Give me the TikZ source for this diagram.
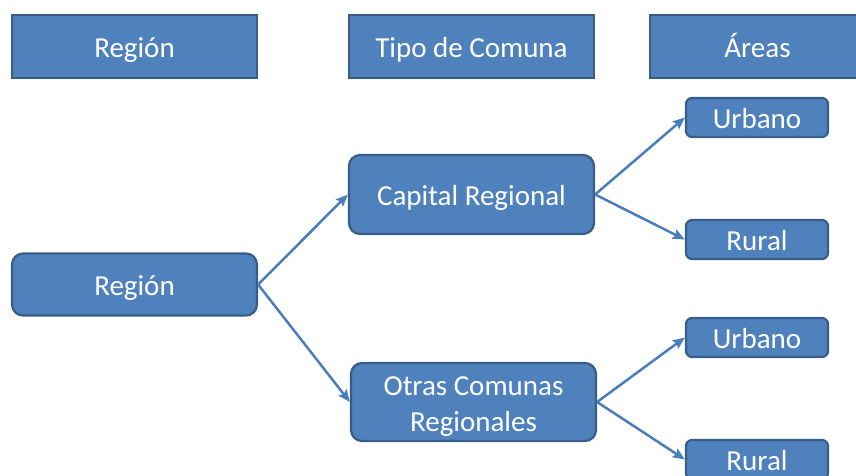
\documentclass[tikz,border=0pt]{standalone}
\usepackage{fontspec}
\setmainfont{Carlito}
\usetikzlibrary{arrows.meta}
\definecolor{boxfill}{HTML}{4F81BD}
\definecolor{boxline}{HTML}{385D8A}
\definecolor{arrowc}{HTML}{4A7EBB}
\tikzset{
  txt/.style={text=white, font=\fontsize{29}{36}\selectfont, inner sep=0pt, align=center},
  base/.style={txt, fill=boxfill, draw=boxline, line width=2.2pt, text height=21.5pt, text depth=0.5pt},
  header/.style={base, rectangle, minimum width=245pt, minimum height=63pt},
  bigbox/.style={base, rounded corners=11pt, minimum width=245pt},
  smallbox/.style={base, rounded corners=6pt, minimum width=142pt, minimum height=39pt},
  conn/.style={draw=arrowc, line width=2.5pt, -{Stealth[length=12pt,width=10pt,inset=2pt]}}
}
\begin{document}
\begin{tikzpicture}[x=1pt,y=-1pt]
\useasboundingbox (0,0) rectangle (856,475);
\clip (0,0) rectangle (856,475);
\node[header] (h1) at (134.5,46.5) {Región};
\node[header] (h2) at (471.5,46.5) {Tipo de Comuna};
\node[header, minimum width=215pt] (h3) at (757.5,46.5) {Áreas};
\node[bigbox, minimum height=62pt] (reg) at (134.5,284.5) {Región};
\node[bigbox, minimum height=79pt] (cap) at (471.5,194.5) {Capital Regional};
\node[bigbox, minimum height=78pt] (otr) at (473.5,402) {};
\node[txt] (otrtext) at ([yshift=-4.5pt]otr.center) {Otras Comunas\\Regionales};
\node[smallbox] (u1) at (757,117.5) {Urbano};
\node[smallbox] (r1) at (757,239.5) {Rural};
\node[smallbox] (u2) at (757,337.5) {Urbano};
\node[smallbox] (r2) at (757,459.5) {Rural};
\draw[conn] (reg.east) -- (cap.west);
\draw[conn] (reg.east) -- (otr.west);
\draw[conn] (cap.east) -- (u1.west);
\draw[conn] (cap.east) -- (r1.west);
\draw[conn] (otr.east) -- (u2.west);
\draw[conn] (otr.east) -- (r2.west);
\end{tikzpicture}
\end{document}
